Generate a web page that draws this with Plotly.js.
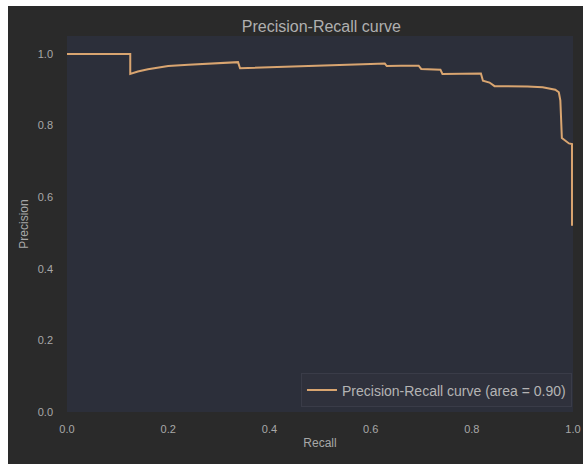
<!DOCTYPE html>
<html>
<head>
<meta charset="utf-8">
<script src="https://cdn.plot.ly/plotly-3.0.1.min.js"></script>
<style>
html,body{margin:0;padding:0;background:#ffffff;}
#chart{position:absolute;left:8px;top:6px;width:575px;height:458px;}
</style>
</head>
<body>
<div id="chart"></div>
<script>
const recall = [0, 0.125, 0.125, 0.14, 0.16, 0.18, 0.2, 0.24, 0.28, 0.31, 0.338, 0.342, 0.38, 0.42, 0.46, 0.5, 0.55, 0.6, 0.628, 0.632, 0.66, 0.695, 0.70, 0.72, 0.738, 0.742, 0.78, 0.818, 0.822, 0.835, 0.845, 0.88, 0.91, 0.94, 0.955, 0.965, 0.972, 0.975, 0.978, 0.985, 0.992, 0.998, 0.998];
const precision = [1.0, 1.0, 0.944, 0.951, 0.957, 0.962, 0.966, 0.970, 0.973, 0.975, 0.977, 0.960, 0.962, 0.964, 0.966, 0.968, 0.970, 0.972, 0.973, 0.966, 0.967, 0.967, 0.958, 0.957, 0.956, 0.944, 0.944, 0.945, 0.925, 0.920, 0.910, 0.910, 0.909, 0.907, 0.904, 0.900, 0.893, 0.870, 0.765, 0.758, 0.750, 0.748, 0.52];
const seriesName = "Precision-Recall curve (area = 0.90)";
const xTicks = [0, 0.2, 0.4, 0.6, 0.8, 1.0];
const yTicks = [0, 0.2, 0.4, 0.6, 0.8, 1.0];
const tickText = ["0.0", "0.2", "0.4", "0.6", "0.8", "1.0"];

const trace = {
  x: recall, y: precision, type: "scatter", mode: "lines",
  name: seriesName,
  line: {color: "#d9a570", width: 2},
  showlegend: true
};

const layout = {
  width: 575, height: 458,
  paper_bgcolor: "#2a2a2a",
  plot_bgcolor: "#2c2f3a",
  margin: {l: 59, r: 10, t: 30, b: 52},
  font: {family: "Liberation Sans, Arial, sans-serif", color: "#a8a8a8", size: 11},
  title: {text: "Precision-Recall curve", x: 0.545, xanchor: "center", y: 0.955, yanchor: "middle",
          font: {size: 16, color: "#b0b0b0"}},
  xaxis: {
    range: [0, 1.0], tickvals: xTicks, ticktext: tickText,
    showgrid: false, zeroline: false, showline: false, ticks: "",
    ticklabelstandoff: 9,
    title: {text: "Recall", standoff: 4, font: {size: 12, color: "#a8a8a8"}}
  },
  yaxis: {
    range: [0, 1.05], tickvals: yTicks, ticktext: tickText,
    showgrid: false, zeroline: false, showline: false, ticks: "",
    ticklabelstandoff: 13,
    title: {text: "Precision", standoff: 6, font: {size: 12, color: "#a8a8a8"}}
  },
  showlegend: true,
  legend: {
    x: 0.998, xanchor: "right", y: 0.012, yanchor: "bottom",
    bgcolor: "#2f313c", bordercolor: "#3a3c48", borderwidth: 1,
    font: {size: 14, color: "#b4b4b4"}, itemwidth: 30
  }
};

Plotly.newPlot("chart", [trace], layout, {displayModeBar: false, staticPlot: true});
</script>
</body>
</html>
